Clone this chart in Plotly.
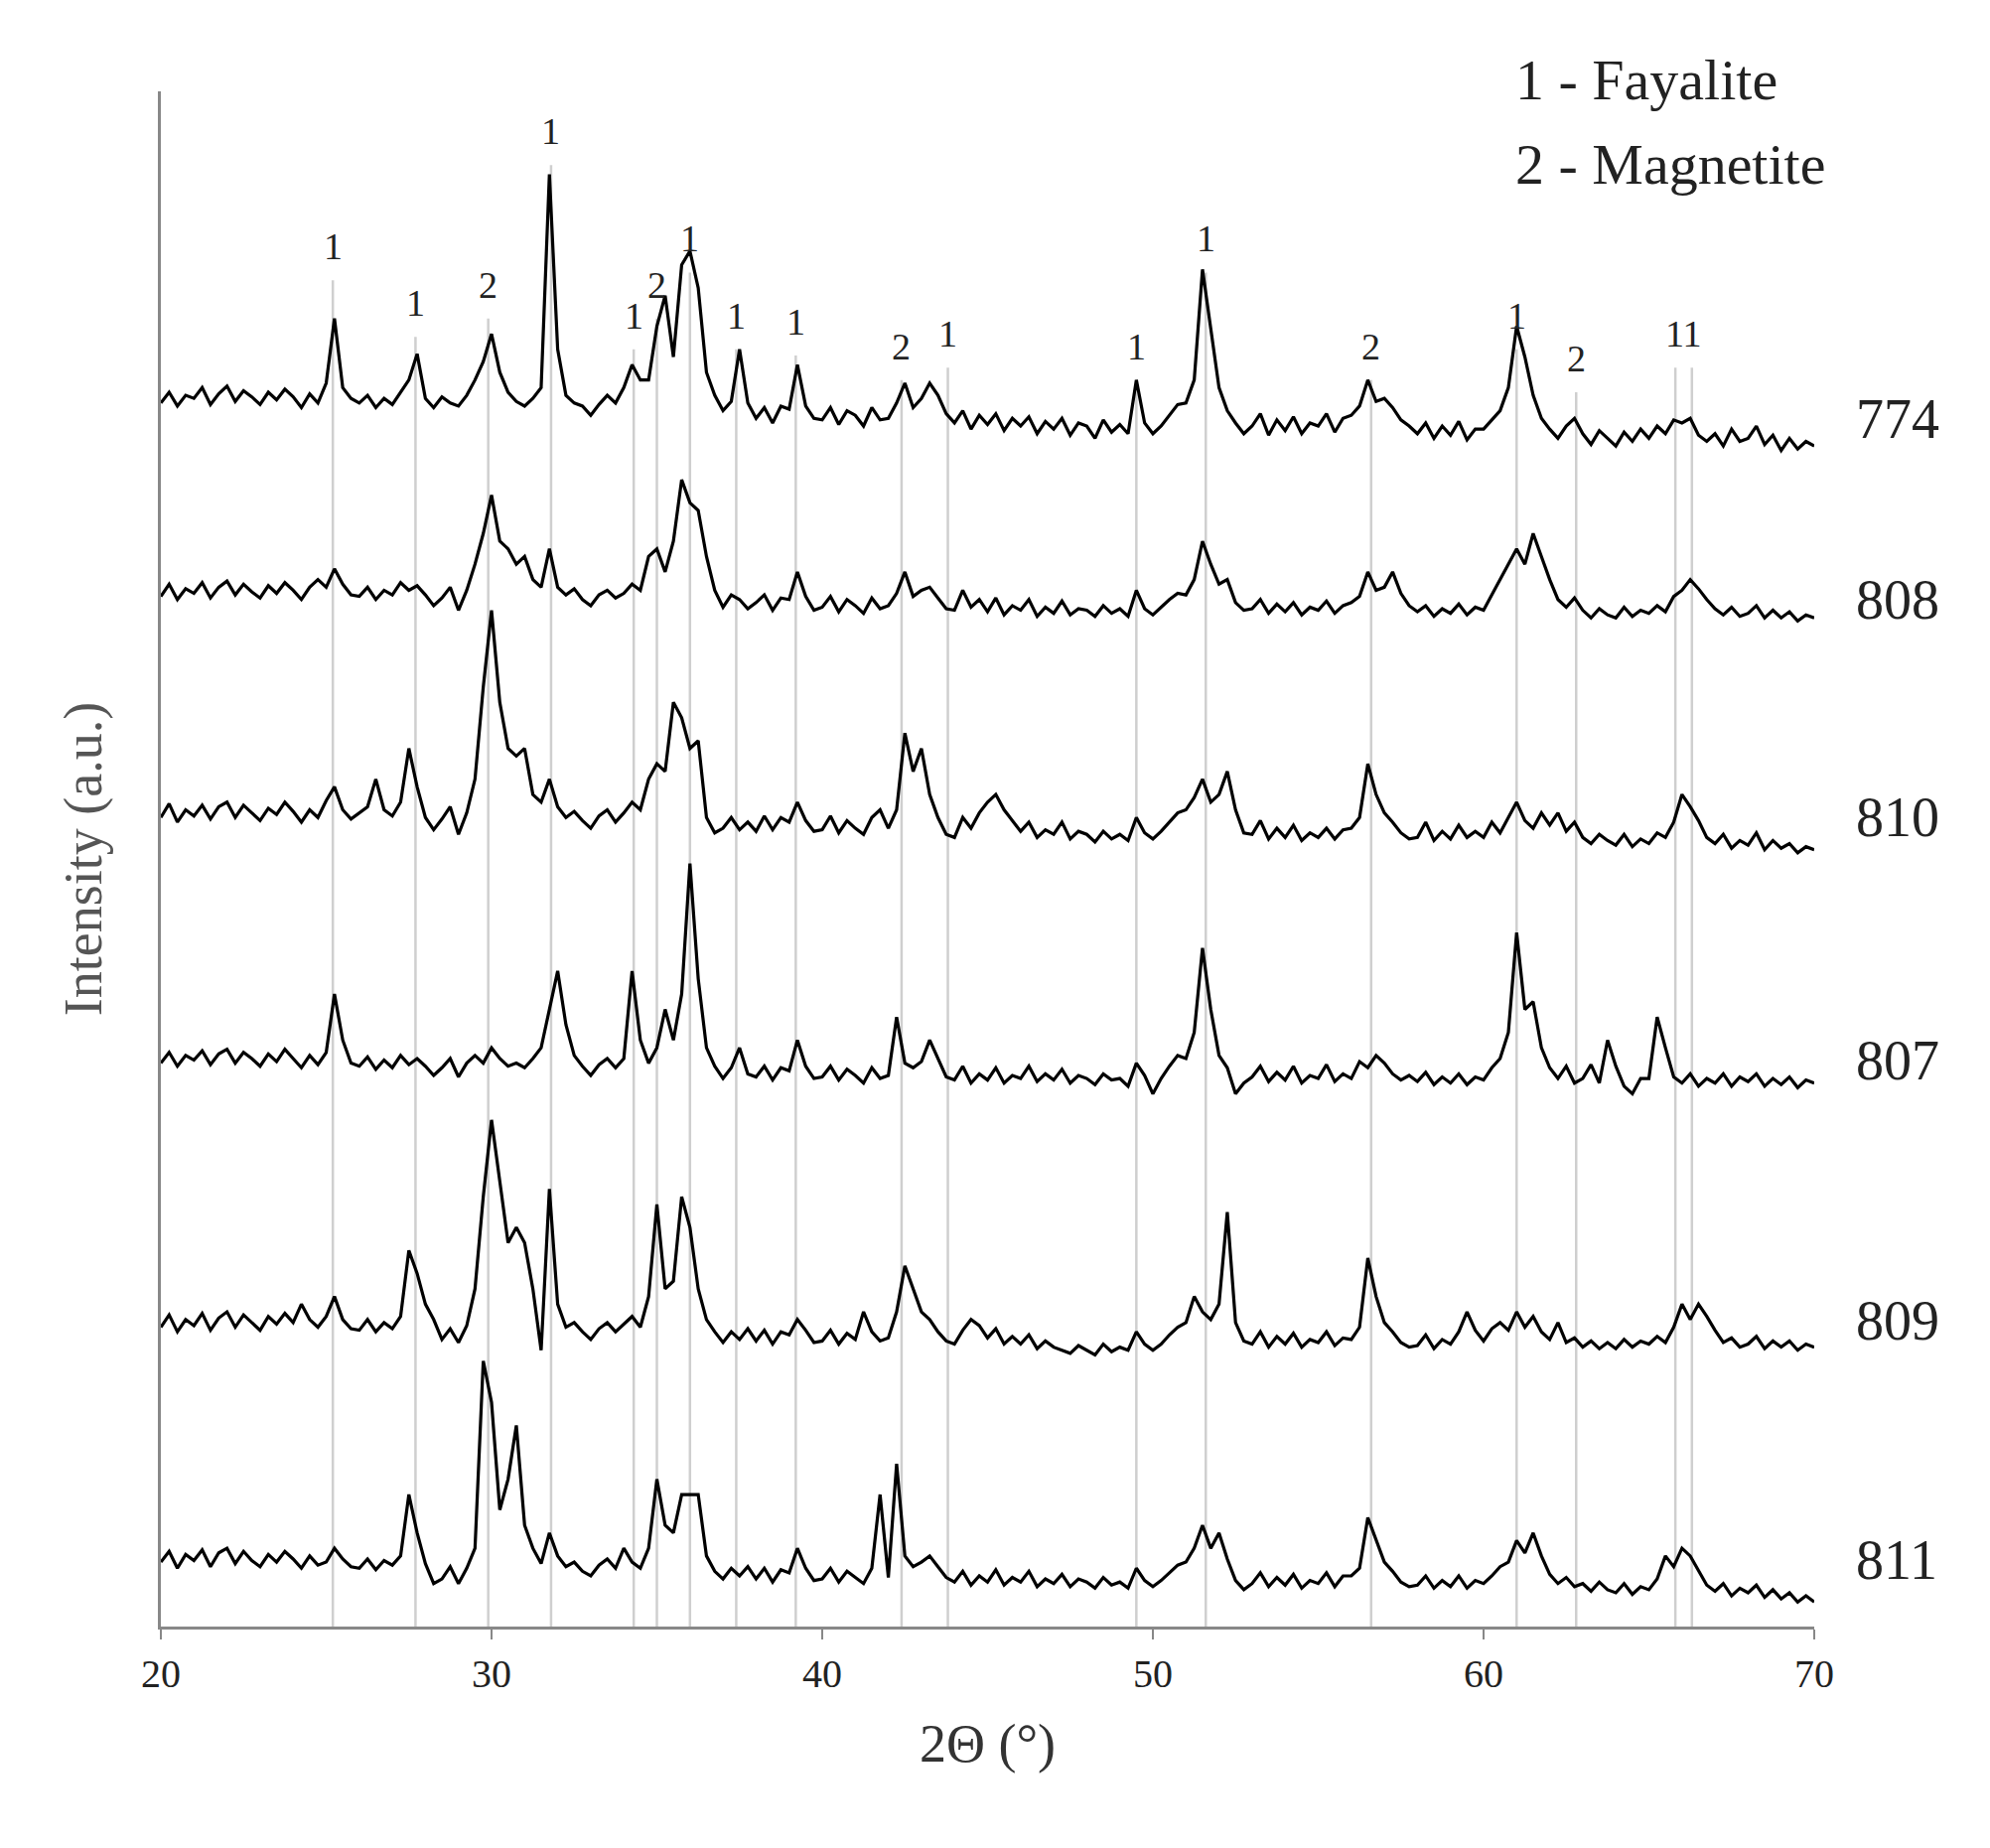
import numpy as np
import plotly.graph_objects as go

x_start, x_step = 20.0, 0.25
# relative intensity (a.u.) on 0.25° grid, 20..70
s774 = [0.5,1.2,0.3,1.0, 0.8,1.5,0.4,1.1, 1.6,0.6,1.3,0.9, 0.4,1.2,0.7,1.4, 0.9,0.2,1.1,0.5,
        1.8,6.0,1.5,0.8, 0.5,1.0,0.2,0.8, 0.4,1.2,2.0,3.7, 0.8,0.2,0.9,0.5, 0.3,1.0,2.0,3.2,
        5.0,2.5,1.2,0.6, 0.3,0.8,1.5,15.4, 4.0,1.0,0.5,0.3, -0.3,0.4,1.0,0.5, 1.5,3.0,2.0,2.0,
        5.5,7.5,3.5,9.5, 10.4,8.0,2.5,1.0, 0.0,0.6,4.0,0.5, -0.5,0.2,-0.8,0.3, 0.1,3.0,0.3,-0.5,
        -0.6,0.2,-0.9,0.0, -0.3,-1.0,0.2,-0.6, -0.5,0.5,1.8,0.2, 0.8,1.8,1.0,-0.2, -0.8,0.0,-1.2,-0.3,
        -0.9,-0.2,-1.3,-0.5, -1.0,-0.4,-1.5,-0.7, -1.2,-0.5,-1.6,-0.8, -1.0,-1.8,-0.6,-1.4, -0.9,-1.5,2.0,-0.8,
        -1.5,-1.0,-0.3,0.4, 0.5,2.0,9.2,5.5, 1.5,0.0,-0.8,-1.5, -1.0,-0.2,-1.6,-0.6, -1.3,-0.4,-1.5,-0.8,
        -1.0,-0.2,-1.4,-0.5, -0.3,0.3,2.0,0.6, 0.8,0.2,-0.6,-1.0, -1.5,-0.8,-1.8,-1.0, -1.6,-0.7,-1.9,-1.2,
        -1.2,-0.6,0.0,1.5, 5.5,3.5,1.0,-0.5, -1.2,-1.8,-1.0,-0.5, -1.5,-2.2,-1.3,-1.8, -2.3,-1.4,-2.0,-1.2,
        -1.8,-1.0,-1.5,-0.6, -0.8,-0.5,-1.6,-2.0, -1.5,-2.3,-1.2,-2.0, -1.8,-1.0,-2.2,-1.6, -2.6,-1.8,-2.5,-2.0,
        -2.3]
s808 = [0.4,1.2,0.2,0.9, 0.6,1.3,0.3,1.0, 1.4,0.5,1.2,0.7, 0.3,1.1,0.6,1.3, 0.8,0.2,1.0,1.5,
        1.0,2.2,1.2,0.5, 0.4,1.0,0.2,0.8, 0.5,1.3,0.8,1.1, 0.5,-0.2,0.3,1.0, -0.5,0.8,2.5,4.5,
        7.0,4.0,3.5,2.5, 3.0,1.5,1.0,3.5, 1.0,0.5,0.9,0.2, -0.2,0.5,0.8,0.3, 0.6,1.2,0.8,3.0,
        3.5,2.0,4.0,8.0, 6.5,6.0,3.0,0.8, -0.3,0.5,0.2,-0.4, 0.0,0.5,-0.5,0.3, 0.2,2.0,0.4,-0.5,
        -0.3,0.4,-0.6,0.2, -0.2,-0.7,0.3,-0.4, -0.2,0.6,2.0,0.4, 0.8,1.0,0.3,-0.4, -0.5,0.8,-0.3,0.2,
        -0.6,0.3,-0.8,-0.2, -0.5,0.2,-0.9,-0.3, -0.7,0.1,-0.8,-0.4, -0.5,-0.9,-0.2,-0.7, -0.4,-0.9,0.8,-0.4,
        -0.8,-0.3,0.2,0.6, 0.5,1.5,4.0,2.5, 1.2,1.5,0.0,-0.5, -0.4,0.2,-0.7,-0.1, -0.6,0.0,-0.8,-0.3,
        -0.5,0.1,-0.7,-0.2, 0.0,0.4,2.0,0.8, 1.0,2.0,0.6,-0.2, -0.6,-0.2,-0.9,-0.4, -0.7,-0.1,-0.8,-0.3,
        -0.5,0.5,1.5,2.5, 3.5,2.5,4.5,3.0, 1.5,0.2,-0.3,0.3, -0.5,-1.0,-0.4,-0.8, -1.0,-0.3,-0.9,-0.5,
        -0.7,-0.2,-0.6,0.4, 0.8,1.5,0.9,0.2, -0.4,-0.8,-0.3,-0.9, -0.7,-0.2,-1.0,-0.5, -1.0,-0.6,-1.2,-0.8,
        -1.0]
s810 = [0.5,1.4,0.2,1.0, 0.6,1.3,0.4,1.2, 1.5,0.5,1.3,0.8, 0.3,1.1,0.7,1.5, 0.9,0.2,1.0,0.5,
        1.6,2.5,1.0,0.4, 0.8,1.2,3.0,1.0, 0.6,1.5,5.0,2.5, 0.5,-0.3,0.4,1.2, -0.6,0.8,3.0,9.0,
        14.0,8.0,5.0,4.5, 5.0,2.0,1.5,3.0, 1.2,0.5,0.9,0.3, -0.2,0.6,1.0,0.2, 0.8,1.5,1.0,3.0,
        4.0,3.5,8.0,7.0, 5.0,5.5,0.5,-0.5, -0.2,0.5,-0.3,0.2, -0.4,0.6,-0.3,0.5, 0.2,1.5,0.3,-0.4,
        -0.3,0.6,-0.5,0.3, -0.2,-0.6,0.5,1.0, -0.2,1.0,6.0,3.5, 5.0,2.0,0.5,-0.6, -0.8,0.5,-0.2,0.8,
        1.5,2.0,1.0,0.3, -0.4,0.2,-0.8,-0.3, -0.6,0.2,-0.9,-0.4, -0.6,-1.1,-0.4,-0.9, -0.6,-1.0,0.5,-0.5,
        -0.9,-0.4,0.2,0.8, 1.0,1.8,3.0,1.5, 2.0,3.5,1.0,-0.5, -0.6,0.3,-0.9,-0.2, -0.8,0.0,-1.0,-0.5,
        -0.8,-0.2,-0.9,-0.3, -0.2,0.5,4.0,2.0, 0.8,0.2,-0.5,-0.9, -0.8,0.2,-1.0,-0.4, -0.9,0.0,-0.8,-0.4,
        -0.8,0.2,-0.5,0.5, 1.5,0.3,-0.2,0.8, 0.0,0.8,-0.4,0.2, -0.8,-1.2,-0.6,-1.0, -1.3,-0.6,-1.4,-0.9,
        -1.2,-0.5,-0.8,0.2, 2.0,1.2,0.3,-0.8, -1.2,-0.6,-1.5,-1.0, -1.3,-0.5,-1.6,-1.0, -1.5,-1.2,-1.8,-1.4,
        -1.6]
s807 = [0.5,1.2,0.3,1.0, 0.7,1.3,0.4,1.1, 1.4,0.5,1.2,0.8, 0.3,1.1,0.6,1.4, 0.8,0.2,1.0,0.4,
        1.2,5.0,2.0,0.5, 0.3,0.9,0.1,0.7, 0.2,1.0,0.4,0.8, 0.3,-0.3,0.2,0.8, -0.4,0.5,1.0,0.5,
        1.5,0.8,0.3,0.5, 0.2,0.8,1.5,4.0, 6.5,3.0,1.0,0.3, -0.3,0.4,0.8,0.2, 0.8,6.5,2.0,0.5,
        1.5,4.0,2.0,5.0, 13.5,6.0,1.5,0.3, -0.5,0.2,1.5,-0.2, -0.4,0.3,-0.6,0.2, 0.0,2.0,0.3,-0.5,
        -0.4,0.3,-0.6,0.1, -0.3,-0.8,0.2,-0.5, -0.3,3.5,0.5,0.2, 0.6,2.0,0.8,-0.4, -0.6,0.3,-0.8,-0.2,
        -0.6,0.2,-0.8,-0.3, -0.5,0.3,-0.7,-0.2, -0.6,0.1,-0.8,-0.3, -0.5,-0.9,-0.2,-0.6, -0.5,-1.0,0.5,-0.3,
        -1.5,-0.5,0.3,1.0, 0.8,2.5,8.0,4.0, 1.0,0.2,-1.5,-0.8, -0.4,0.3,-0.7,-0.1, -0.6,0.3,-0.8,-0.3,
        -0.5,0.4,-0.7,-0.2, -0.5,0.6,0.2,1.0, 0.5,-0.2,-0.6,-0.3, -0.7,-0.1,-0.9,-0.4, -0.8,-0.2,-0.9,-0.4,
        -0.6,0.2,0.8,2.5, 9.0,4.0,4.5,1.5, 0.2,-0.5,0.3,-0.8, -0.5,0.4,-0.8,2.0, 0.3,-1.0,-1.5,-0.5,
        -0.5,3.5,1.5,-0.4, -0.8,-0.2,-1.0,-0.5, -0.8,-0.2,-1.0,-0.4, -0.7,-0.2,-1.0,-0.5, -0.9,-0.4,-1.1,-0.6,
        -0.8]
s809 = [0.5,1.3,0.2,1.0, 0.6,1.4,0.3,1.1, 1.5,0.5,1.3,0.8, 0.3,1.2,0.7,1.4, 0.8,2.0,1.0,0.5,
        1.2,2.5,1.0,0.4, 0.3,1.0,0.2,0.8, 0.4,1.2,5.5,4.0, 2.0,1.0,-0.3,0.4, -0.5,0.6,3.0,9.0,
        14.0,10.0,6.0,7.0, 6.0,3.0,-1.0,9.5, 2.0,0.5,0.8,0.2, -0.3,0.4,0.8,0.2, 0.7,1.2,0.5,2.5,
        8.5,3.0,3.5,9.0, 7.0,3.0,1.0,0.2, -0.5,0.2,-0.3,0.4, -0.4,0.3,-0.6,0.2, 0.0,1.0,0.3,-0.5,
        -0.4,0.3,-0.6,0.1, -0.3,1.5,0.2,-0.4, -0.2,1.5,4.5,3.0, 1.5,1.0,0.2,-0.4, -0.6,0.3,1.0,0.6,
        -0.2,0.4,-0.6,-0.1, -0.6,0.0,-0.9,-0.4, -0.8,-1.0,-1.2,-0.7, -1.0,-1.3,-0.6,-1.1, -0.8,-1.0,0.2,-0.6,
        -1.0,-0.6,0.0,0.5, 0.8,2.5,1.5,1.0, 2.0,8.0,0.8,-0.4, -0.6,0.2,-0.8,-0.1, -0.6,0.1,-0.8,-0.3,
        -0.5,0.2,-0.7,-0.2, -0.3,0.5,5.0,2.5, 0.8,0.2,-0.5,-0.8, -0.7,0.0,-0.9,-0.3, -0.6,0.2,1.5,0.3,
        -0.4,0.4,0.8,0.3, 1.5,0.5,1.2,0.2, -0.3,0.8,-0.5,-0.2, -0.8,-0.4,-0.9,-0.5, -0.9,-0.3,-0.8,-0.4,
        -0.6,-0.1,-0.5,0.5, 2.0,1.0,2.0,1.2, 0.3,-0.5,-0.2,-0.8, -0.6,-0.1,-0.9,-0.4, -0.8,-0.4,-1.0,-0.6,
        -0.8]
s811 = [0.6,1.3,0.2,1.1, 0.7,1.4,0.3,1.2, 1.5,0.5,1.3,0.7, 0.3,1.1,0.6,1.3, 0.8,0.2,1.0,0.4,
        0.6,1.5,0.8,0.3, 0.2,0.8,0.1,0.7, 0.4,1.0,5.0,2.5, 0.5,-0.8,-0.5,0.3, -0.8,0.2,1.5,13.7,
        11.0,4.0,6.0,9.5, 3.0,1.5,0.5,2.5, 1.0,0.3,0.6,0.0, -0.3,0.4,0.8,0.2, 1.5,0.6,0.2,1.5,
        6.0,3.0,2.5,5.0, 5.0,5.0,1.0,0.0, -0.5,0.2,-0.3,0.3, -0.5,0.2,-0.7,0.1, -0.1,1.5,0.2,-0.6,
        -0.5,0.2,-0.7,0.0, -0.4,-0.8,0.2,5.0, -0.4,7.0,1.0,0.3, 0.6,1.0,0.3,-0.4, -0.7,0.0,-0.9,-0.3,
        -0.7,0.1,-0.9,-0.4, -0.7,0.0,-1.0,-0.5, -0.8,-0.2,-1.0,-0.5, -0.7,-1.1,-0.4,-0.9, -0.7,-1.1,0.2,-0.6,
        -1.0,-0.6,-0.1,0.4, 0.6,1.5,3.0,1.5, 2.5,0.8,-0.6,-1.2, -0.8,-0.1,-1.0,-0.4, -0.9,-0.2,-1.1,-0.6,
        -0.8,-0.1,-1.0,-0.3, -0.3,0.2,3.5,2.0, 0.6,0.0,-0.7,-1.0, -0.9,-0.3,-1.1,-0.6, -1.0,-0.3,-1.1,-0.6,
        -0.8,-0.3,0.3,0.6, 2.0,1.2,2.5,1.0, -0.2,-0.8,-0.4,-1.0, -0.8,-1.3,-0.7,-1.2, -1.4,-0.8,-1.5,-1.0,
        -1.2,-0.5,1.0,0.3, 1.5,1.0,0.0,-0.9, -1.3,-0.8,-1.6,-1.1, -1.4,-0.9,-1.7,-1.2, -1.8,-1.4,-2.0,-1.6,
        -2.0]

samples = ["774", "808", "810", "807", "809", "811"]
offsets = [79.2, 66.7, 52.2, 36.2, 19.0, 3.6]
label_y = [80.8, 69.0, 52.7, 36.9, 17.8, 2.2]
series = [s774, s808, s810, s807, s809, s811]

peak_pos = [25.2, 27.7, 29.9, 31.8, 34.3, 35.0, 36.0, 37.4, 39.2, 42.4, 43.8, 49.5, 51.6, 56.6, 61.0, 62.8, 65.8, 66.3]
peak_lab = ["1", "1", "2", "1", "1", "2", "1", "1", "1", "2", "1", "1", "1", "2", "1", "2", "1", "1"]
peak_lab_y = [89.9, 86.2, 87.4, 97.4, 85.4, 87.4, 90.4, 85.4, 85.0, 83.4, 84.2, 83.4, 90.4, 83.4, 85.4, 82.6, 84.2, 84.2]

X0, X1, Y0, Y1 = 20, 70, 0, 100

fig = go.Figure()
for pos, ly in zip(peak_pos, peak_lab_y):
    fig.add_shape(type="line", x0=pos, x1=pos, y0=0, y1=ly - 2.2, xref="x", yref="y",
                  line=dict(color="#cfcfcf", width=2.5), layer="below")

for name, s, off in zip(samples, series, offsets):
    xs = x_start + x_step * np.arange(len(s))
    fig.add_trace(go.Scatter(x=xs, y=np.array(s) + off, mode="lines", name=name,
                             line=dict(color="black", width=3.2), showlegend=False))

serif = "Liberation Serif"
for name, ly in zip(samples, label_y):
    fig.add_annotation(x=(71.2 - X0) / (X1 - X0), y=(ly - Y0) / (Y1 - Y0), xref="paper", yref="paper",
                       text=name, showarrow=False, xanchor="left",
                       font=dict(family=serif, size=56, color="#222"))
for pos, lab, ly in zip(peak_pos, peak_lab, peak_lab_y):
    if pos in (65.8, 66.3):
        continue
    fig.add_annotation(x=pos, y=ly, text=lab, showarrow=False, yanchor="middle",
                       font=dict(family=serif, size=38, color="#222"))
fig.add_annotation(x=66.05, y=84.2, text="11", showarrow=False,
                   font=dict(family=serif, size=38, color="#222"))

for txt, ly in [("1 - Fayalite", 103.0), ("2 - Magnetite", 97.5)]:
    fig.add_annotation(x=(60.9 - X0) / (X1 - X0), y=(ly - Y0) / (Y1 - Y0), xref="paper", yref="paper",
                       text=txt, showarrow=False, xanchor="left",
                       font=dict(family=serif, size=58, color="#222"))

fig.update_layout(
    width=2004, height=1861, paper_bgcolor="white", plot_bgcolor="white",
    margin=dict(l=154, r=185, t=84, b=231),
    xaxis=dict(range=[X0, X1], dtick=10, showgrid=False, zeroline=False, showline=True,
               linecolor="#888", linewidth=3, ticks="outside", tickcolor="#888", ticklen=10,
               tickwidth=2, tickfont=dict(family=serif, size=40, color="#222"),
               title=dict(text="2Θ (°)", font=dict(family=serif, size=54, color="#333"), standoff=30)),
    yaxis=dict(range=[Y0, Y1], showgrid=False, zeroline=False, showline=True,
               linecolor="#888", linewidth=3, showticklabels=False, ticks="",
               title=dict(text="Intensity (a.u.)", font=dict(family=serif, size=54, color="#555"), standoff=40)),
)
fig.write_html("out.html")
